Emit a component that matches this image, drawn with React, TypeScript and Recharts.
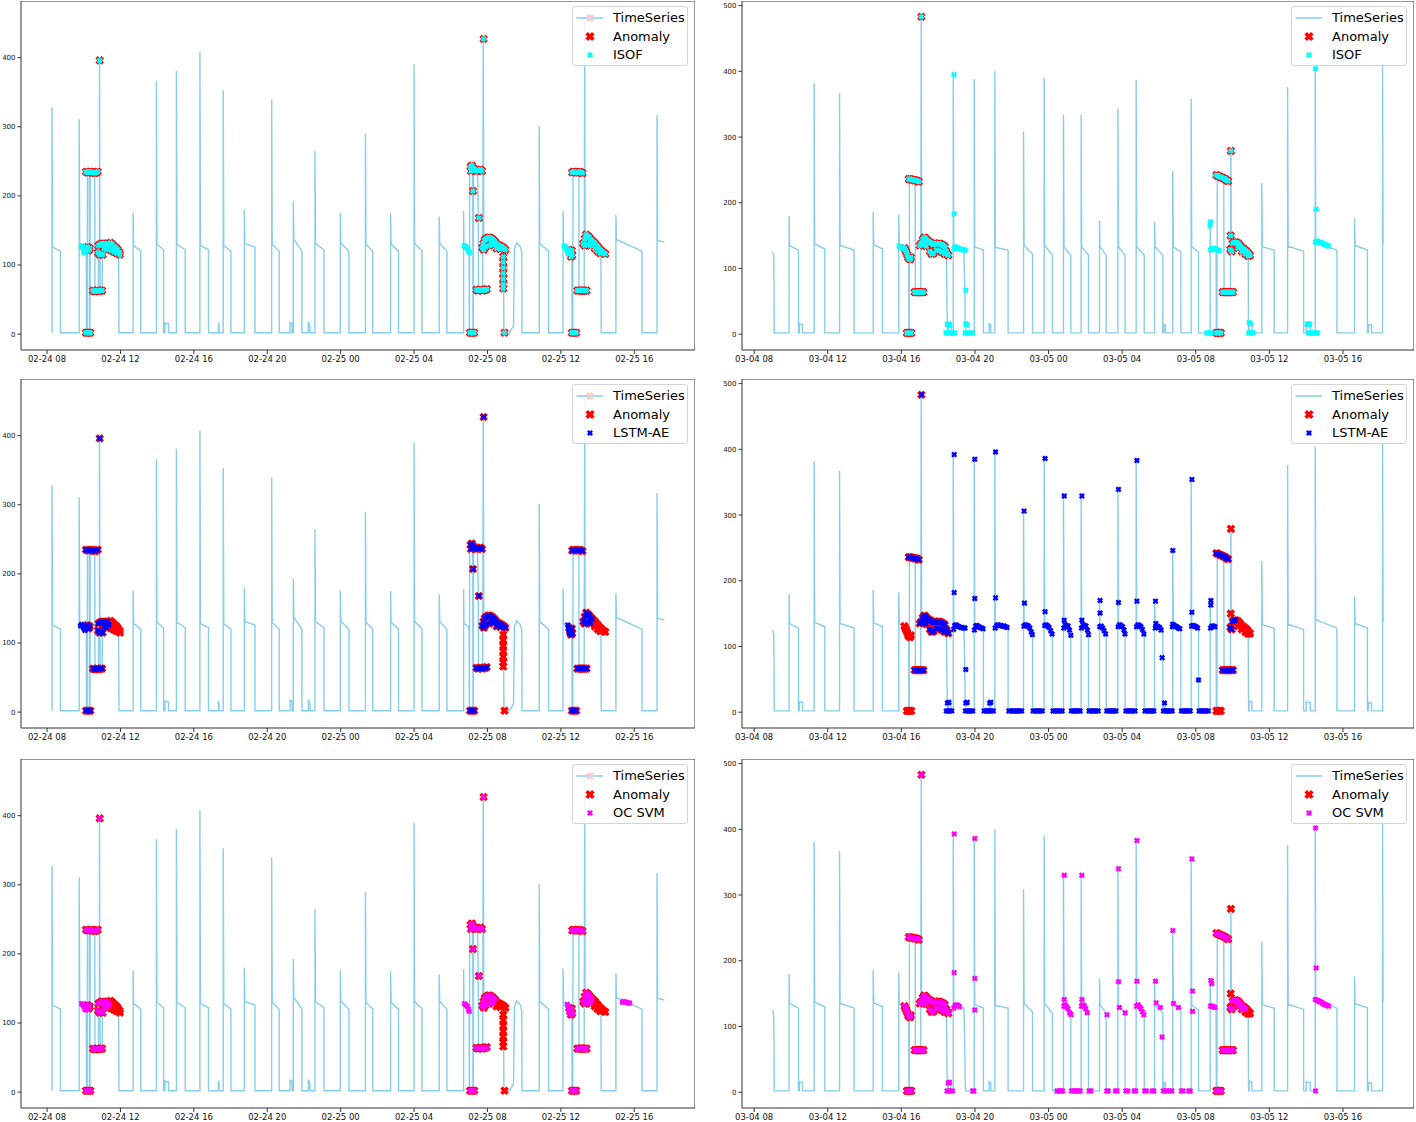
import { ComposedChart, Line, Scatter, XAxis, YAxis, ReferenceArea, Legend } from "recharts";

type Pt = [number, number];

const SKY = "#87CEEB";
const FONT = "DejaVu Sans";
const BASE = 2;
const PLOT_H = 349;

/* ─── axes (x in hours from 00:00 of the first day) ─── */
const HOUR_TICKS = [8, 12, 16, 20, 24, 28, 32, 36, 40];
const FEB_TICK_LABELS = ["02-24 08", "02-24 12", "02-24 16", "02-24 20", "02-25 00", "02-25 04", "02-25 08", "02-25 12", "02-25 16"];
const MAR_TICK_LABELS = ["03-04 08", "03-04 12", "03-04 16", "03-04 20", "03-05 00", "03-05 04", "03-05 08", "03-05 12", "03-05 16"];
const FEB_Y_TICKS = [0, 100, 200, 300, 400];
const MAR_Y_TICKS = [0, 100, 200, 300, 400, 500];

/* ─── Feb series: cycles [on, peak, plateau start, plateau end, off] ─── */
const FEB_CYCLES = [
  [8.27, 328, 126, 120, 8.73], [12.69, 176, 128, 120, 13.11], [13.96, 366, 130, 122, 14.35],
  [14.42, 17, 15, 15, 14.62], [15.05, 381, 130, 122, 15.53], [16.33, 408, 128, 122, 16.8],
  [17.34, 15, 14, 14, 17.37], [17.6, 353, 128, 120, 18.02], [18.75, 180, 131, 126, 19.33],
  [20.24, 340, 130, 120, 20.65], [21.24, 17, 16, 16, 21.35], [21.42, 193, 137, 120, 21.89],
  [22.24, 18, 16, 12, 22.33], [22.6, 265, 131, 122, 23.09], [23.98, 176, 132, 120, 24.45],
  [25.35, 290, 130, 120, 25.75], [26.72, 175, 130, 120, 27.15], [28.0, 390, 131, 121, 28.43],
  [29.37, 170, 131, 120, 29.79], [34.82, 301, 131, 120, 35.33], [39.0, 172, 137, 120, 40.42],
];
const FEB_SEG_A: Pt[] = [[9.75, 2], [9.75, 311], [9.78, 126], [10.0, 124], [10.14, 120], [10.15, 2], [10.19, 2], [10.2, 234], [10.3, 234], [10.31, 2], [10.34, 2], [10.35, 234], [10.6, 234], [10.61, 62], [10.8, 62], [10.81, 120], [10.85, 120], [10.86, 396], [10.88, 118], [10.9, 62], [11.0, 62], [11.02, 128], [11.3, 132], [11.6, 126], [11.9, 118], [11.92, 2]];
const FEB_SEG_B: Pt[] = [[30.7, 2], [30.7, 178], [30.72, 128], [30.95, 124], [31.0, 118], [31.01, 2], [31.02, 2], [31.03, 240], [31.18, 242], [31.2, 207], [31.21, 2], [31.23, 2], [31.24, 238], [31.46, 236], [31.5, 168], [31.51, 64], [31.74, 64], [31.77, 427], [31.8, 125], [32.0, 140], [32.2, 138], [32.3, 128], [32.4, 136], [32.6, 132], [32.85, 126], [32.87, 112], [32.88, 66], [32.9, 2]];
const FEB_SEG_B2: Pt[] = [[33.2, 2], [33.42, 12], [33.47, 124], [33.6, 132], [33.8, 126], [33.87, 118], [33.88, 2]];
const FEB_SEG_C: Pt[] = [[36.12, 2], [36.12, 179], [36.15, 128], [36.45, 122], [36.6, 112], [36.61, 2], [36.65, 2], [36.66, 234], [36.98, 234], [36.99, 63], [37.27, 63], [37.3, 460], [37.32, 130], [37.4, 145], [37.7, 138], [38.0, 125], [38.18, 117], [38.2, 2]];
const FEB_END: Pt[] = [[41.24, 2], [41.24, 317], [41.27, 136], [41.64, 133]];

/* ─── Feb anomalies (red) ─── */
const FEB_A1: Pt[] = [[10.2, 126], [10.27, 121], [10.33, 124]];
const FEB_A2: Pt[] = [[10.12, 2], [10.2, 2], [10.28, 2], [10.36, 2]];
const FEB_A3: Pt[] = [[10.12, 235], [10.2, 234], [10.28, 234], [10.36, 235], [10.44, 234], [10.52, 234], [10.6, 233], [10.68, 234], [10.76, 235]];
const FEB_A4: Pt[] = [[10.87, 396]];
const FEB_A5: Pt[] = [[10.5, 63], [10.58, 62], [10.66, 62], [10.74, 63], [10.82, 62], [10.92, 63], [11.0, 63]];
const FEB_A6A: Pt[] = [[10.78, 118], [10.86, 115], [10.95, 116], [11.03, 115], [10.8, 128], [10.9, 130], [11.0, 131], [11.1, 131], [11.2, 130], [11.3, 131], [11.38, 126], [11.1, 124], [11.25, 122]];
const FEB_A6B: Pt[] = [[11.45, 132], [11.55, 130], [11.65, 127], [11.75, 125], [11.85, 122], [11.95, 118], [11.5, 121], [11.65, 119], [11.8, 117], [11.97, 115]];
const FEB_B1: Pt[] = [[31.05, 2], [31.13, 2], [31.2, 2], [31.28, 2]];
const FEB_B2: Pt[] = [[31.08, 242], [31.1, 236], [31.15, 244], [31.22, 240], [31.3, 238], [31.38, 236], [31.46, 237], [31.54, 237], [31.62, 238], [31.7, 236]];
const FEB_B3: Pt[] = [[31.21, 207], [31.53, 168], [31.79, 427]];
const FEB_B6: Pt[] = [[31.4, 64], [31.48, 63], [31.56, 64], [31.64, 64], [31.72, 63], [31.8, 64], [31.88, 64], [31.96, 65]];
const FEB_B7A: Pt[] = [[31.72, 125], [31.78, 131], [31.85, 136], [31.93, 138], [32.0, 139], [32.08, 140], [32.16, 139], [32.24, 138], [32.32, 136], [31.8, 122], [31.9, 126], [32.1, 128], [32.2, 131], [32.3, 129], [32.4, 134]];
const FEB_B7B: Pt[] = [[32.48, 131], [32.56, 129], [32.64, 128], [32.72, 127], [32.8, 126], [32.9, 124], [32.98, 122], [32.5, 124], [32.7, 123]];
const FEB_B8: Pt[] = [[32.86, 112], [32.86, 104], [32.86, 96], [32.86, 88], [32.86, 80], [32.86, 72], [32.86, 66], [32.93, 2]];
const FEB_C1: Pt[] = [[36.45, 122], [36.5, 117], [36.55, 112], [36.62, 114], [36.6, 121]];
const FEB_C2: Pt[] = [[36.6, 2], [36.68, 2], [36.76, 2], [36.84, 2]];
const FEB_C3: Pt[] = [[36.62, 234], [36.7, 235], [36.78, 234], [36.86, 234], [36.94, 234], [37.02, 235], [37.1, 234], [37.18, 233]];
const FEB_C4: Pt[] = [[36.9, 63], [36.98, 63], [37.06, 63], [37.14, 63], [37.22, 63], [37.3, 63], [37.4, 63]];
const FEB_C5A: Pt[] = [[37.22, 131], [37.3, 138], [37.38, 144], [37.46, 142], [37.54, 140], [37.62, 137], [37.7, 135], [37.3, 128], [37.45, 130], [37.6, 128]];
const FEB_C5B: Pt[] = [[37.78, 133], [37.86, 131], [37.94, 128], [38.02, 126], [38.1, 123], [38.18, 121], [38.26, 119], [38.35, 117], [38.42, 116], [37.85, 124], [38.0, 120], [38.15, 117]];

/* ─── Feb detector-only points ─── */
const FEB_ISOF_EXTRA: Pt[] = [[9.87, 126], [9.92, 128], [9.97, 125], [10.02, 122], [10.07, 119], [10.12, 124], [10.0, 118], [30.73, 128], [30.78, 127], [30.83, 126], [30.88, 125], [30.93, 123], [30.98, 120], [31.02, 118], [36.17, 128], [36.22, 126], [36.28, 124], [36.33, 122], [36.38, 118], [36.42, 116]];
const FEB_LSTM_EXTRA: Pt[] = [[9.82, 125], [9.88, 127], [9.94, 124], [10.0, 121], [10.06, 118], [10.12, 122], [10.2, 125], [10.26, 121], [36.38, 126], [36.42, 120], [36.46, 114]];
const FEB_SVM_EXTRA: Pt[] = [[9.88, 128], [9.94, 127], [10.0, 124], [10.06, 120], [10.12, 119], [10.2, 125], [30.75, 128], [30.82, 126], [30.9, 124], [30.97, 120], [31.0, 117], [36.35, 127], [36.4, 121], [36.45, 115], [39.35, 130], [39.42, 131], [39.5, 130], [39.58, 130], [39.66, 129], [39.75, 129]];

/* ─── Mar series ─── */
const MAR_CYCLES = [
  [9.9, 180, 135, 128, 10.41], [10.46, 17, 15, 15, 10.63], [11.26, 382, 137, 130, 11.84],
  [12.64, 367, 135, 128, 13.43], [14.47, 186, 136, 130, 14.97], [18.55, 16, 15, 15, 18.7],
  [19.96, 388, 133, 128, 20.46], [20.77, 16, 15, 15, 20.86], [21.08, 400, 132, 128, 21.8],
  [22.64, 309, 135, 122, 23.13], [23.76, 390, 135, 120, 24.21], [24.81, 334, 133, 120, 25.21],
  [25.77, 334, 133, 120, 26.17], [26.77, 173, 133, 120, 27.13], [27.77, 343, 133, 120, 28.16],
  [28.76, 387, 133, 120, 29.2], [29.76, 171, 133, 120, 30.21], [30.26, 15, 14, 14, 30.35],
  [30.75, 248, 133, 125, 31.19], [31.75, 358, 133, 125, 32.15], [34.9, 18, 16, 16, 35.05],
  [35.59, 230, 133, 128, 36.26], [36.99, 376, 134, 126, 37.86], [38.0, 16, 15, 15, 38.22],
  [38.49, 404, 141, 128, 39.67], [40.63, 176, 135, 128, 41.33], [41.38, 15, 14, 14, 41.55],
];
const MAR_START: Pt[] = [[9.0, 125], [9.07, 118], [9.09, 2]];
const MAR_SEG_D: Pt[] = [[15.86, 2], [15.86, 182], [15.89, 134], [16.15, 130], [16.3, 118], [16.4, 115], [16.41, 2], [16.43, 2], [16.44, 235], [16.75, 234], [16.76, 63], [17.05, 63], [17.08, 483], [17.1, 135], [17.25, 148], [17.45, 142], [17.6, 140], [17.65, 123], [17.9, 125], [18.0, 138], [18.3, 136], [18.45, 122], [18.5, 2]];
const MAR_SEG_E: Pt[] = [[18.82, 2], [18.82, 395], [18.85, 132], [19.4, 128], [19.45, 67], [19.47, 15], [19.5, 2]];
const MAR_SEG_F: Pt[] = [[32.78, 2], [32.78, 171], [32.81, 130], [33.1, 126], [33.12, 2], [33.15, 2], [33.17, 240], [33.52, 236], [33.54, 64], [33.88, 64], [33.91, 279], [33.93, 148], [33.97, 126], [34.1, 138], [34.4, 135], [34.6, 128], [34.85, 120], [34.87, 2]];
const MAR_END: Pt[] = [[42.15, 2], [42.15, 412], [42.18, 138], [42.2, 138]];

/* ─── Mar anomalies (red) ─── */
const MAR_D1: Pt[] = [[16.17, 131], [16.22, 128], [16.27, 125], [16.32, 121], [16.37, 117], [16.42, 115], [16.48, 114], [16.52, 117]];
const MAR_D2: Pt[] = [[16.3, 2], [16.38, 2], [16.46, 2], [16.54, 2]];
const MAR_D3: Pt[] = [[16.4, 236], [16.48, 236], [16.56, 235], [16.64, 235], [16.72, 234], [16.8, 234], [16.88, 233], [16.95, 232]];
const MAR_D4: Pt[] = [[16.72, 64], [16.8, 64], [16.88, 64], [16.96, 64], [17.04, 64], [17.12, 64], [17.2, 64]];
const MAR_D5: Pt[] = [[17.09, 483]];
const MAR_D6: Pt[] = [[17.0, 135], [17.08, 138], [17.16, 144], [17.24, 147], [17.32, 146], [17.4, 143], [17.48, 141], [17.56, 140], [17.64, 138], [17.72, 136], [17.8, 138], [17.88, 138], [17.96, 137], [18.04, 138], [18.12, 137], [18.2, 136], [18.28, 135], [18.36, 133], [18.44, 126], [18.5, 122], [17.2, 136], [17.35, 134], [17.55, 126], [17.65, 122], [17.75, 123], [17.9, 128], [18.05, 127], [18.2, 125], [18.35, 122], [18.55, 120]];
const MAR_E1: Pt[] = [[33.12, 2], [33.2, 2], [33.28, 2], [33.36, 2]];
const MAR_E2: Pt[] = [[33.12, 242], [33.2, 241], [33.28, 240], [33.36, 239], [33.44, 238], [33.52, 237], [33.6, 236], [33.68, 234], [33.76, 233]];
const MAR_E3: Pt[] = [[33.46, 64], [33.54, 64], [33.62, 64], [33.7, 64], [33.78, 64], [33.86, 64], [33.94, 64], [34.02, 64]];
const MAR_E4: Pt[] = [[33.91, 279], [33.9, 150]];
const MAR_E5A: Pt[] = [[33.88, 129], [33.95, 126], [34.0, 138], [34.08, 140], [34.16, 140]];
const MAR_E5B: Pt[] = [[34.24, 139], [34.32, 138], [34.4, 135], [34.48, 132], [34.56, 130], [34.64, 129], [34.72, 127], [34.3, 131], [34.5, 126]];
const MAR_E5C: Pt[] = [[34.8, 125], [34.88, 122], [34.95, 120], [34.7, 122], [34.85, 119]];

/* ─── Mar detector-only points ─── */
const MAR_ISOF_EXTRA: Pt[] = [
  [15.88, 134], [15.94, 133], [16.0, 132], [16.06, 131], [16.12, 130],
  [18.42, 2], [18.5, 2], [18.58, 2], [18.66, 2], [18.74, 2], [18.82, 2], [18.9, 2], [18.5, 15], [18.58, 16], [18.64, 14],
  [18.87, 395], [18.87, 183], [18.85, 130], [18.92, 133], [19.0, 132], [19.08, 131], [19.16, 130], [19.24, 129], [19.32, 129], [19.4, 128], [19.48, 128],
  [19.5, 67], [19.5, 16], [19.56, 14], [19.46, 2], [19.54, 2], [19.62, 2], [19.7, 2], [19.78, 2], [19.86, 2],
  [32.6, 2], [32.68, 2], [32.76, 2], [32.84, 2], [32.8, 171], [32.77, 165], [32.8, 128], [32.88, 130], [32.96, 131], [33.04, 130], [33.12, 129], [33.2, 128], [33.28, 127],
  [34.87, 2], [34.95, 2], [35.03, 2], [35.12, 2], [34.9, 18], [34.98, 16],
  [38.04, 15], [38.12, 16], [38.2, 15], [38.13, 2], [38.21, 2], [38.29, 2], [38.37, 2], [38.45, 2], [38.53, 2], [38.61, 2],
  [38.51, 404], [38.54, 190], [38.5, 140], [38.58, 142], [38.66, 141], [38.74, 140], [38.82, 139], [38.9, 138], [38.98, 137], [39.06, 136], [39.14, 135], [39.21, 134],
];
const MAR_LSTM_ZEROS: Pt[] = [
  [18.44, 2], [18.54, 2], [18.64, 2], [18.74, 2], [19.48, 2], [19.58, 2], [19.68, 2], [19.78, 2], [19.88, 2],
  [20.5, 2], [20.6, 2], [20.7, 2], [20.8, 2], [20.9, 2], [21.0, 2],
  [21.84, 2], [21.94, 2], [22.04, 2], [22.14, 2], [22.24, 2], [22.34, 2], [22.44, 2], [22.54, 2],
  [23.16, 2], [23.26, 2], [23.36, 2], [23.46, 2], [23.56, 2], [23.66, 2],
  [24.24, 2], [24.34, 2], [24.44, 2], [24.54, 2], [24.64, 2], [24.74, 2],
  [25.24, 2], [25.34, 2], [25.44, 2], [25.54, 2], [25.64, 2], [25.72, 2],
  [26.2, 2], [26.3, 2], [26.4, 2], [26.5, 2], [26.6, 2], [26.7, 2],
  [27.16, 2], [27.26, 2], [27.36, 2], [27.46, 2], [27.56, 2], [27.66, 2],
  [28.2, 2], [28.3, 2], [28.4, 2], [28.5, 2], [28.6, 2], [28.7, 2],
  [29.24, 2], [29.34, 2], [29.44, 2], [29.54, 2], [29.64, 2], [29.72, 2],
  [30.24, 2], [30.34, 2], [30.44, 2], [30.54, 2], [30.64, 2], [30.72, 2],
  [31.22, 2], [31.32, 2], [31.42, 2], [31.52, 2], [31.62, 2], [31.7, 2],
  [32.18, 2], [32.28, 2], [32.38, 2], [32.48, 2], [32.58, 2], [32.68, 2],
];
const MAR_LSTM_PEAKS: Pt[] = [
  [18.5, 14], [18.58, 15], [18.87, 392], [18.87, 182], [19.5, 65], [19.5, 14], [19.58, 15],
  [19.99, 385], [19.99, 173], [20.8, 14], [20.86, 15], [21.12, 396], [21.12, 174],
  [22.67, 306], [22.69, 166], [23.81, 386], [23.81, 153], [24.85, 329], [24.85, 140],
  [25.81, 329], [25.81, 140], [26.8, 170], [26.8, 151], [27.8, 339], [27.8, 167],
  [28.8, 383], [28.8, 169], [29.81, 169], [29.83, 135], [30.17, 83], [30.3, 14],
  [30.75, 246], [30.75, 134], [31.79, 354], [31.79, 152], [32.15, 49], [32.82, 170], [32.82, 163],
];
const MAR_LSTM_PLATEAUS: Pt[] = [
  [18.84, 126], [18.9, 132], [18.98, 133], [19.06, 131], [19.14, 130], [19.22, 129], [19.3, 129], [19.38, 128], [19.46, 128],
  [19.97, 125], [20.04, 131], [20.12, 132], [20.2, 130], [20.28, 129], [20.36, 128], [20.44, 127],
  [21.1, 128], [21.18, 132], [21.26, 133], [21.34, 132], [21.42, 132], [21.5, 131], [21.58, 131], [21.66, 130], [21.74, 129],
  [22.66, 131], [22.74, 133], [22.82, 132], [22.9, 131], [22.98, 128], [23.06, 122], [23.12, 118],
  [23.79, 132], [23.87, 133], [23.95, 131], [24.03, 129], [24.11, 124], [24.19, 119],
  [24.83, 128], [24.9, 133], [24.98, 132], [25.06, 131], [25.14, 125], [25.21, 117],
  [25.79, 128], [25.87, 133], [25.95, 132], [26.03, 131], [26.11, 125], [26.17, 118],
  [26.78, 130], [26.86, 131], [26.94, 128], [27.02, 124], [27.1, 119],
  [27.78, 130], [27.86, 133], [27.94, 132], [28.02, 130], [28.1, 125], [28.15, 119],
  [28.78, 130], [28.86, 133], [28.94, 132], [29.02, 130], [29.1, 126], [29.18, 119],
  [29.8, 128], [29.88, 131], [29.96, 130], [30.04, 129], [30.12, 125],
  [30.73, 130], [30.81, 132], [30.89, 131], [30.97, 130], [31.05, 128], [31.13, 127],
  [31.77, 131], [31.86, 132], [31.94, 131], [32.02, 130], [32.1, 128],
  [32.8, 128], [32.88, 131], [32.96, 131], [33.04, 130],
];
const MAR_SVM_ZEROS: Pt[] = [
  [18.48, 2], [18.58, 2], [18.68, 2], [18.78, 2], [19.88, 2], [19.94, 2],
  [24.46, 2], [24.56, 2], [24.63, 2], [24.7, 2], [24.76, 2], [25.24, 2], [25.34, 2], [25.44, 2], [25.54, 2], [25.64, 2], [25.72, 2],
  [26.2, 2], [26.3, 2], [27.16, 2], [27.24, 2], [27.64, 2], [27.72, 2], [28.2, 2], [28.3, 2],
  [28.66, 2], [28.74, 2], [29.22, 2], [29.32, 2], [29.64, 2], [29.72, 2], [30.24, 2], [30.34, 2], [30.42, 2],
  [30.6, 2], [30.7, 2], [31.22, 2], [31.3, 2], [31.62, 2], [31.7, 2], [38.51, 2],
];
const MAR_SVM_POINTS: Pt[] = [
  [18.55, 14], [18.62, 15], [18.87, 393], [18.87, 182], [18.85, 128], [18.92, 132], [19.0, 133], [19.08, 132], [19.16, 130],
  [19.99, 386], [19.99, 173], [19.99, 125],
  [24.85, 330], [24.85, 141], [24.83, 131], [24.9, 133], [24.98, 130], [25.06, 127], [25.14, 121], [25.22, 118],
  [25.81, 330], [25.81, 141], [25.79, 131], [25.86, 133], [25.94, 131], [26.02, 127], [26.1, 121],
  [27.17, 118], [27.8, 340], [27.8, 168], [27.85, 129], [28.16, 121],
  [28.8, 383], [28.8, 169], [28.78, 131], [28.86, 133], [28.94, 130], [29.02, 127], [29.1, 122], [29.18, 118],
  [29.81, 169], [29.85, 136], [30.07, 129], [30.17, 84],
  [30.75, 246], [30.79, 135], [31.06, 129], [31.79, 355], [31.82, 154], [31.82, 123],
  [32.82, 170], [32.87, 165], [32.8, 131], [32.88, 131], [32.96, 130], [33.04, 129],
  [38.51, 402], [38.54, 189], [38.5, 141], [38.58, 140], [38.66, 139], [38.74, 138], [38.82, 137], [38.9, 135], [38.98, 134], [39.06, 133], [39.14, 132], [39.22, 131],
];

/* ─── assemble ─── */
const toPts = (arr: Pt[]) => arr.map(([t, v]) => ({ t, v }));
const join = (groups: Pt[][]): Pt[] => ([] as Pt[]).concat(...groups);

function buildSeries(cycles: number[][], pieces: Pt[][]) {
  const parts: Pt[][] = [
    ...cycles.map(([on, peak, ps, pe, off]) => [[on, BASE], [on, peak], [on + 0.03, ps], [off, pe], [off, BASE]] as Pt[]),
    ...pieces,
  ];
  parts.sort((a, b) => a[0][0] - b[0][0]);
  return toPts(join(parts));
}

const febSeries = buildSeries(FEB_CYCLES, [FEB_SEG_A, FEB_SEG_B, FEB_SEG_B2, FEB_SEG_C, FEB_END]);
const marSeries = buildSeries(MAR_CYCLES, [MAR_START, MAR_SEG_D, MAR_SEG_E, MAR_SEG_F, MAR_END]);

const FEB_SHARED = [FEB_A1, FEB_A2, FEB_A3, FEB_A4, FEB_A5, FEB_A6A, FEB_B1, FEB_B2, FEB_B3, FEB_B6, FEB_B7A, FEB_C1, FEB_C2, FEB_C3, FEB_C4, FEB_C5A];
const febAnom = toPts(join([...FEB_SHARED, FEB_A6B, FEB_B7B, FEB_B8, FEB_C5B]));
const febIsof = toPts(join([FEB_ISOF_EXTRA, ...FEB_SHARED, FEB_A6B, FEB_B7B, FEB_B8, FEB_C5B]));
const febLstm = toPts(join([FEB_LSTM_EXTRA, ...FEB_SHARED, FEB_B7B]));
const febSvm = toPts(join([FEB_SVM_EXTRA, ...FEB_SHARED]));

const marAnom = toPts(join([MAR_D1, MAR_D2, MAR_D3, MAR_D4, MAR_D5, MAR_D6, MAR_E1, MAR_E2, MAR_E3, MAR_E4, MAR_E5A, MAR_E5B, MAR_E5C]));
const marIsof = toPts(join([MAR_ISOF_EXTRA, MAR_D1, MAR_D2, MAR_D3, MAR_D4, MAR_D5, MAR_D6, MAR_E1, MAR_E2, MAR_E3, MAR_E4, MAR_E5A, MAR_E5B, MAR_E5C]));
const marLstm = toPts(join([MAR_D3, MAR_D4, MAR_D5, MAR_D6, MAR_E2, MAR_E3, MAR_E5A, MAR_LSTM_ZEROS, MAR_LSTM_PEAKS, MAR_LSTM_PLATEAUS]));
const marSvm = toPts(join([MAR_D1, MAR_D2, MAR_D3, MAR_D4, MAR_D5, MAR_D6, MAR_E1, MAR_E2, MAR_E3, MAR_E5A, MAR_E5B, MAR_SVM_ZEROS, MAR_SVM_POINTS]));

/* ─── marker ─── */
function XMark({ cx, cy, r, fill }: { cx?: number; cy?: number; r: number; fill: string }) {
  if (cx == null || cy == null || isNaN(cx) || isNaN(cy)) return null;
  const L = r * 1.02, w = r * 0.4;
  const d = `M${cx + w},${cy - L}L${cx + w},${cy - w}L${cx + L},${cy - w}L${cx + L},${cy + w}L${cx + w},${cy + w}L${cx + w},${cy + L}L${cx - w},${cy + L}L${cx - w},${cy + w}L${cx - L},${cy + w}L${cx - L},${cy - w}L${cx - w},${cy - w}L${cx - w},${cy - L}Z`;
  return <path d={d} fill={fill} transform={`rotate(45 ${cx} ${cy})`} />;
}

function LegendBox({ name, color, pink }: { name: string; color: string; pink: boolean }) {
  const rows = ["TimeSeries", "Anomaly", name];
  const ys = [11, 29.5, 48];
  return (
    <div style={{ position: "relative", width: 116, height: 60, boxSizing: "border-box", border: "1px solid #d4d4d4",
      borderRadius: 3, background: "rgba(255,255,255,0.85)", fontFamily: FONT, fontSize: 13, color: "#000" }}>
      <svg width={36} height={60} style={{ position: "absolute", left: 0, top: 0 }}>
        <line x1={3.5} x2={30} y1={ys[0]} y2={ys[0]} stroke={SKY} strokeWidth={1.5} />
        {pink && <XMark cx={17} cy={ys[0]} r={4} fill="#f8cdd2" />}
        <XMark cx={17} cy={ys[1]} r={4.6} fill="#ff0000" />
        <XMark cx={17} cy={ys[2]} r={3} fill={color} />
      </svg>
      {rows.map((r, i) => (
        <div key={r} style={{ position: "absolute", left: 40, top: ys[i] - 8, lineHeight: "16px", whiteSpace: "nowrap" }}>{r}</div>
      ))}
    </div>
  );
}

interface PanelProps {
  left: number; top: number; width: number; yWidth: number;
  xDomain: [number, number]; yDomain: [number, number]; yTicks: number[]; labels: string[];
  series: { t: number; v: number }[]; anomalies: { t: number; v: number }[]; detected: { t: number; v: number }[];
  detName: string; detColor: string; legendLeft: number; pink: boolean;
}

function Panel(p: PanelProps) {
  const xTick = { fontSize: 8.5, fill: "#111", fontFamily: FONT };
  const yTick = { fontSize: 7, fill: "#111", fontFamily: FONT };
  return (
    <div style={{ position: "absolute", left: p.left, top: p.top }}>
      <ComposedChart width={p.width} height={PLOT_H + 22} margin={{ top: 0, right: 0, bottom: 0, left: 0 }}>
        <XAxis dataKey="t" type="number" domain={p.xDomain} ticks={HOUR_TICKS} interval={0} allowDataOverflow
          tickFormatter={(h: number) => p.labels[HOUR_TICKS.indexOf(h)] ?? ""} axisLine={false}
          tickSize={4} tickMargin={2} stroke="#333" tick={xTick} height={22} />
        <YAxis dataKey="v" type="number" domain={p.yDomain} ticks={p.yTicks} interval={0} allowDataOverflow
          width={p.yWidth} axisLine={false} tickSize={3.5} tickMargin={2} stroke="#333" tick={yTick} />
        <Line data={p.series} dataKey="v" stroke={SKY} strokeWidth={1.4} dot={false} isAnimationActive={false} />
        <Scatter data={p.anomalies} dataKey="v" isAnimationActive={false}
          shape={(s: any) => <XMark cx={s.cx} cy={s.cy} r={4.3} fill="#ff0000" />} />
        <Scatter data={p.detected} dataKey="v" isAnimationActive={false}
          shape={(s: any) => <XMark cx={s.cx} cy={s.cy} r={3} fill={p.detColor} />} />
        <ReferenceArea x1={p.xDomain[0]} x2={p.xDomain[1]} y1={p.yDomain[0]} y2={p.yDomain[1]}
          fill="none" fillOpacity={0} stroke="#333" strokeWidth={1} ifOverflow="visible" />
        <Legend layout="horizontal" align="center" verticalAlign="middle"
          wrapperStyle={{ left: p.legendLeft, top: 5, width: 116, height: 60 }}
          content={() => <LegendBox name={p.detName} color={p.detColor} pink={p.pink} />} />
      </ComposedChart>
    </div>
  );
}

const FEB_X: [number, number] = [6.58, 43.31];
const FEB_Y: [number, number] = [-23, 482];
const MAR_X: [number, number] = [7.34, 43.86];
const MAR_Y: [number, number] = [-24, 507];

const ROW_TOPS = [1, 379, 759];
const DETECTORS = [
  { name: "ISOF", color: "#00ffff", feb: febIsof, mar: marIsof },
  { name: "LSTM-AE", color: "#0000ff", feb: febLstm, mar: marLstm },
  { name: "OC SVM", color: "#ff00ff", feb: febSvm, mar: marSvm },
];

export default function App() {
  return (
    <div style={{ position: "absolute", left: 0, top: 0, width: 1416, height: 1122, overflow: "hidden", background: "#fff" }}>
      {DETECTORS.map((d, i) => (
        <div key={d.name}>
          <Panel left={0} top={ROW_TOPS[i]} width={695} yWidth={21} xDomain={FEB_X} yDomain={FEB_Y} yTicks={FEB_Y_TICKS}
            labels={FEB_TICK_LABELS} series={febSeries} anomalies={febAnom} detected={d.feb}
            detName={d.name} detColor={d.color} legendLeft={572} pink={true} />
          <Panel left={712} top={ROW_TOPS[i]} width={702} yWidth={30} xDomain={MAR_X} yDomain={MAR_Y} yTicks={MAR_Y_TICKS}
            labels={MAR_TICK_LABELS} series={marSeries} anomalies={marAnom} detected={d.mar}
            detName={d.name} detColor={d.color} legendLeft={579} pink={false} />
        </div>
      ))}
    </div>
  );
}
